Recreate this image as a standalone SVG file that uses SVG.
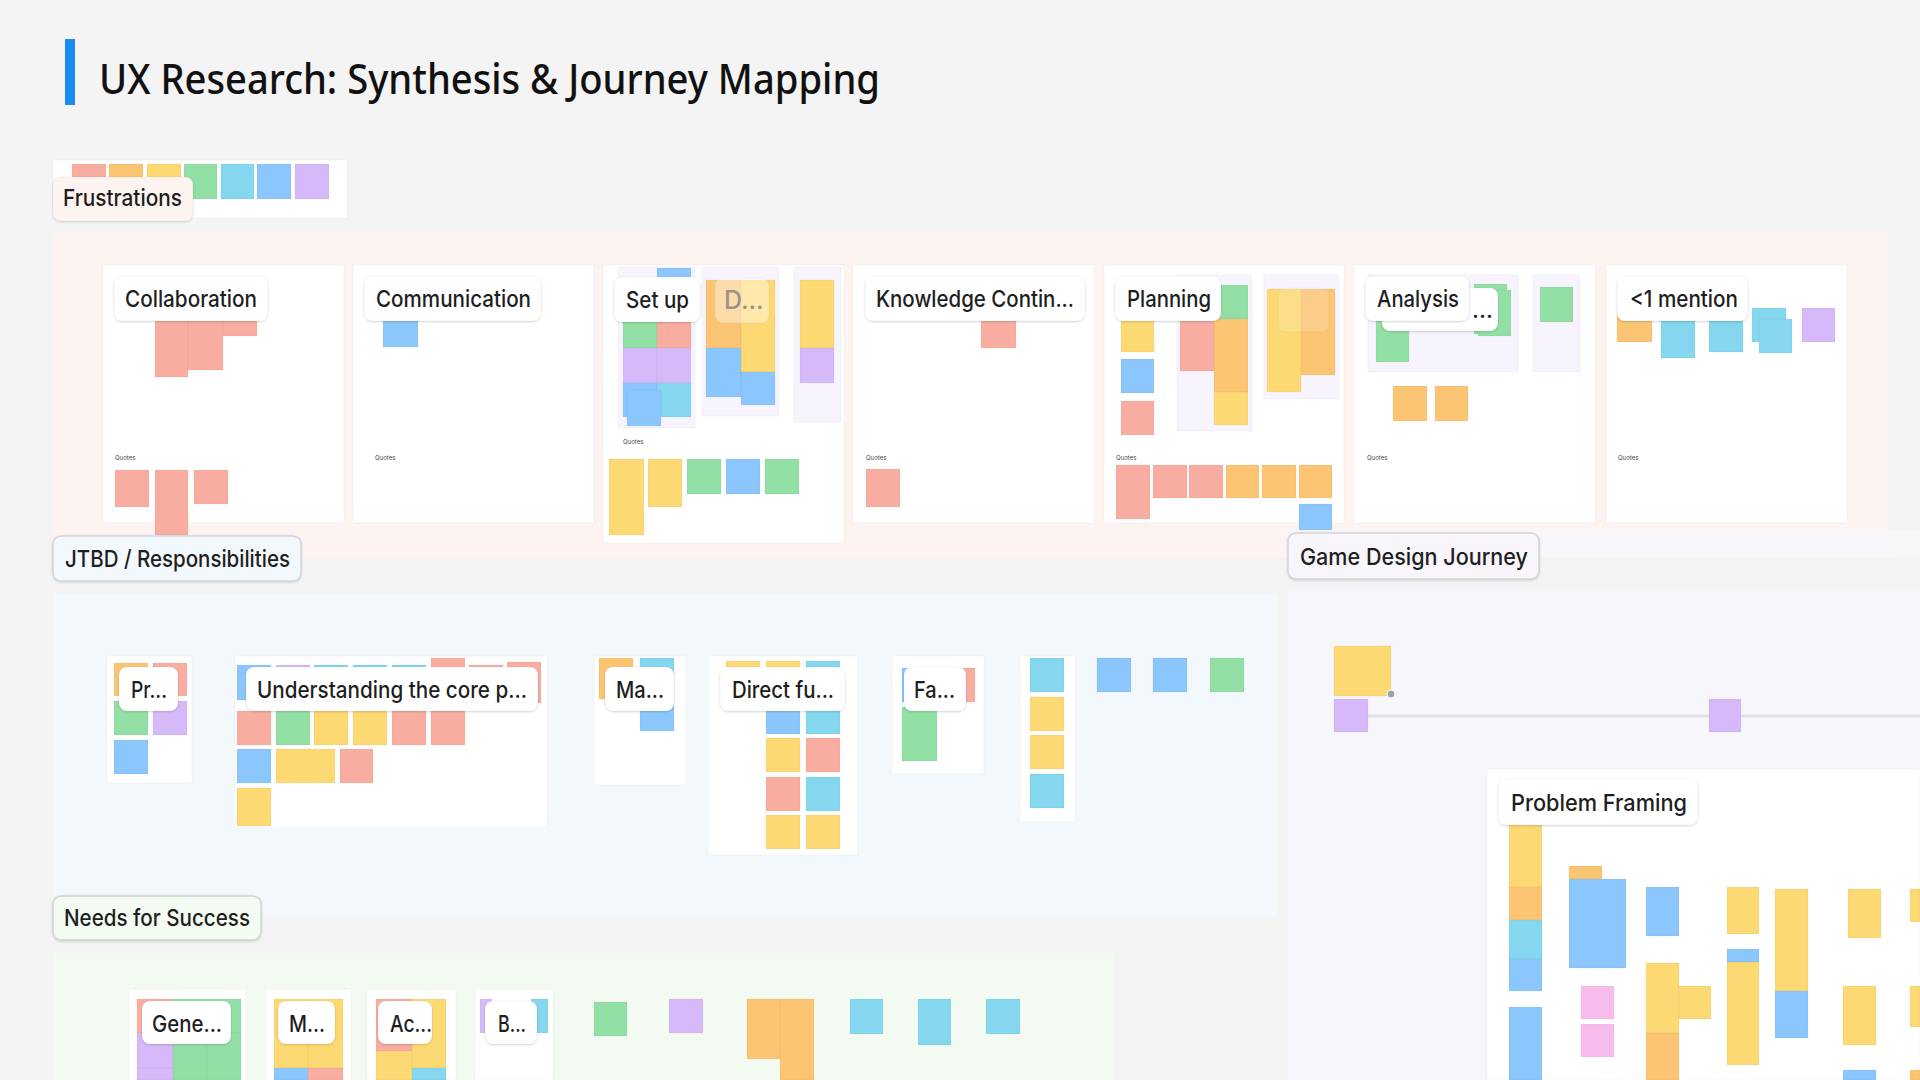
<svg xmlns="http://www.w3.org/2000/svg" width="1920" height="1080" viewBox="0 0 1920 1080">
<defs>
<filter id="sh" x="-10%" y="-20%" width="120%" height="150%"><feDropShadow dx="0" dy="1" stdDeviation="1.2" flood-color="#000" flood-opacity="0.15"/></filter>
</defs>
<style>
.s{fill:#f9ada0}.o{fill:#fcc574}.y{fill:#fdd974}.g{fill:#92dfa5}.c{fill:#84d7ee}.b{fill:#8bc6fc}.p{fill:#d6b9f8}.k{fill:#f8bcec}
.n rect{stroke:#000;stroke-opacity:0.06;stroke-width:0.6}
.card{fill:#ffffff}
.lav{fill:#f7f4fd;stroke:#ece7f6;stroke-width:1}
.lbl{fill:#ffffff;stroke:#d4d4d4;stroke-width:1.5;filter:url(#sh)}
.lt{font-family:Inter,Roboto,"Liberation Sans",sans-serif;font-size:23px;font-weight:500;fill:#1e1e1e}
.q{font-family:Inter,"Liberation Sans",sans-serif;font-size:6px;fill:#444}
.con{stroke:#e2e0e8;stroke-width:3;fill:none}
</style>
<rect width="1920" height="1080" fill="#f4f4f4"/>
<g id="title">
<rect x="65" y="39" width="10" height="66" fill="#1a8bf0"/>
<text x="99" y="94" font-family="'Noto Sans','Open Sans',sans-serif" font-size="42" font-weight="500" fill="#111" textLength="781" lengthAdjust="spacingAndGlyphs">UX Research: Synthesis &amp; Journey Mapping</text>
</g>
<g id="backgrounds">
<rect x="53" y="233" width="1836" height="325" fill="#fdf3f1"/>
<rect x="1283" y="530" width="637" height="27" fill="#f8f6fb"/>
<rect x="53" y="594" width="1224" height="322" fill="#f3f8fc"/>
<rect x="1288" y="591" width="632" height="489" fill="#f7f6fb"/>
<rect x="53" y="953" width="1060" height="127" fill="#f3faf2"/>
</g>
<g id="frustrations-header" class="n">
<rect x="53" y="160" width="294" height="58" fill="#fff" stroke="none"/>
<rect class="s" x="72" y="164" width="34" height="35"/>
<rect class="o" x="109" y="164" width="34" height="35"/>
<rect class="y" x="147" y="164" width="34" height="35"/>
<rect class="g" x="184" y="164" width="33" height="35"/>
<rect class="c" x="221" y="164" width="33" height="35"/>
<rect class="b" x="257" y="164" width="34" height="35"/>
<rect class="p" x="295" y="164" width="34" height="35"/>
<rect x="53" y="177" width="140" height="44" rx="8" fill="#fdf3f1" stroke="#d8d0ce" stroke-width="1.5" filter="url(#sh)"/>
<text class="lt" x="63" y="206" textLength="119" lengthAdjust="spacingAndGlyphs">Frustrations</text>
</g>
<g id="collaboration" class="n">
<rect class="card" x="103" y="265" width="241" height="258"/>
<rect class="s" x="155" y="310" width="33" height="67"/>
<rect class="s" x="188" y="310" width="35" height="60"/>
<rect class="s" x="223" y="310" width="34" height="26"/>
<text class="q" x="115" y="460">Quotes</text>
<rect class="s" x="115" y="470" width="34" height="37"/>
<rect class="s" x="155" y="470" width="33" height="65"/>
<rect class="s" x="194" y="470" width="34" height="34"/>
<rect class="lbl" x="114" y="276" width="154" height="45" rx="8"/>
<text class="lt" x="125" y="307" textLength="132" lengthAdjust="spacingAndGlyphs">Collaboration</text>
</g>
<g id="communication" class="n">
<rect class="card" x="353" y="265" width="241" height="258"/>
<rect class="b" x="383" y="310" width="35" height="37"/>
<text class="q" x="375" y="460">Quotes</text>
<rect class="lbl" x="364" y="276" width="177" height="45" rx="8"/>
<text class="lt" x="376" y="307" textLength="155" lengthAdjust="spacingAndGlyphs">Communication</text>
</g>
<g id="setup" class="n">
<rect class="card" x="603" y="265" width="241" height="278"/>
<rect class="lav" x="618" y="267" width="77" height="161"/>
<rect class="lav" x="702" y="267" width="77" height="149"/>
<rect class="lav" x="794" y="267" width="47" height="155"/>
<rect class="b" x="657" y="268" width="34" height="14"/>
<rect class="g" x="623" y="300" width="34" height="48"/>
<rect class="s" x="657" y="300" width="34" height="48"/>
<rect class="p" x="623" y="348" width="34" height="35"/>
<rect class="p" x="657" y="348" width="34" height="35"/>
<rect class="b" x="623" y="383" width="34" height="34"/>
<rect class="c" x="657" y="383" width="34" height="34"/>
<rect class="b" x="627" y="390" width="34" height="36"/>
<rect class="o" x="706" y="280" width="35" height="68"/>
<rect class="y" x="741" y="280" width="34" height="92"/>
<rect class="b" x="706" y="348" width="35" height="49"/>
<rect class="b" x="741" y="372" width="34" height="33"/>
<rect class="y" x="800" y="280" width="34" height="68"/>
<rect class="p" x="800" y="348" width="34" height="35"/>
<text class="q" x="623" y="444">Quotes</text>
<rect class="y" x="609" y="459" width="35" height="76"/>
<rect class="y" x="648" y="459" width="34" height="48"/>
<rect class="g" x="687" y="459" width="34" height="35"/>
<rect class="b" x="726" y="459" width="34" height="35"/>
<rect class="g" x="765" y="459" width="34" height="35"/>
<rect class="lbl" x="614" y="277" width="86" height="45" rx="8"/>
<text class="lt" x="626" y="308" textLength="63" lengthAdjust="spacingAndGlyphs">Set up</text>
<rect x="715" y="278" width="54" height="45" rx="8" fill="#fff" fill-opacity="0.4" stroke="#bbb" stroke-opacity="0.5" stroke-width="1.5"/>
<text class="lt" x="724" y="309" style="fill:#9a928a;font-size:25px">D...</text>
</g>
<g id="knowledge" class="n">
<rect class="card" x="853" y="265" width="241" height="258"/>
<rect class="s" x="981" y="310" width="35" height="38"/>
<text class="q" x="866" y="460">Quotes</text>
<rect class="s" x="866" y="469" width="34" height="38"/>
<rect class="lbl" x="865" y="276" width="220" height="45" rx="8"/>
<text class="lt" x="876" y="307" textLength="198" lengthAdjust="spacingAndGlyphs">Knowledge Contin...</text>
</g>
<g id="planning" class="n">
<rect class="card" x="1104" y="265" width="240" height="258"/>
<rect class="y" x="1121" y="300" width="33" height="52"/>
<rect class="b" x="1121" y="359" width="33" height="34"/>
<rect class="s" x="1121" y="401" width="33" height="34"/>
<rect class="lav" x="1177" y="275" width="75" height="156"/>
<rect class="g" x="1214" y="285" width="34" height="34"/>
<rect class="o" x="1214" y="319" width="34" height="73"/>
<rect class="y" x="1214" y="392" width="34" height="33"/>
<rect class="s" x="1180" y="300" width="34" height="71"/>
<rect class="lav" x="1264" y="275" width="75" height="124"/>
<rect class="y" x="1267" y="289" width="34" height="103"/>
<rect class="o" x="1301" y="289" width="34" height="86"/>
<rect x="1278" y="288" width="51" height="44" rx="7" fill="#fff" fill-opacity="0.15" stroke="#c9b9a0" stroke-opacity="0.4"/>
<text class="q" x="1116" y="460">Quotes</text>
<rect class="s" x="1116" y="465" width="34" height="54"/>
<rect class="s" x="1153" y="465" width="34" height="33"/>
<rect class="s" x="1189" y="465" width="34" height="33"/>
<rect class="o" x="1226" y="465" width="33" height="33"/>
<rect class="o" x="1262" y="465" width="34" height="33"/>
<rect class="o" x="1299" y="465" width="33" height="33"/>
<rect class="b" x="1299" y="504" width="33" height="26"/>
<rect class="lbl" x="1115" y="276" width="106" height="45" rx="8"/>
<text class="lt" x="1127" y="307" textLength="84" lengthAdjust="spacingAndGlyphs">Planning</text>
</g>
<g id="analysis" class="n">
<rect class="card" x="1354" y="265" width="241" height="258"/>
<rect class="lav" x="1368" y="275" width="150" height="97"/>
<rect class="lav" x="1533" y="275" width="47" height="97"/>
<rect class="g" x="1376" y="310" width="33" height="52"/>
<rect class="g" x="1474" y="284" width="33" height="50"/>
<rect class="g" x="1478" y="290" width="33" height="46"/>
<rect class="g" x="1540" y="287" width="33" height="35"/>
<rect class="o" x="1393" y="386" width="34" height="35"/>
<rect class="o" x="1435" y="386" width="33" height="35"/>
<text class="q" x="1367" y="460">Quotes</text>
<rect class="lbl" x="1382" y="288" width="116" height="43" rx="8"/>
<text class="lt" x="1472" y="318">...</text>
<rect class="lbl" x="1365" y="276" width="104" height="45" rx="8"/>
<text class="lt" x="1377" y="307" textLength="82" lengthAdjust="spacingAndGlyphs">Analysis</text>
</g>
<g id="one-mention" class="n">
<rect class="card" x="1606" y="265" width="241" height="258"/>
<rect class="o" x="1617" y="310" width="35" height="32"/>
<rect class="c" x="1661" y="310" width="34" height="48"/>
<rect class="c" x="1709" y="305" width="34" height="47"/>
<rect class="c" x="1752" y="308" width="34" height="34"/>
<rect class="c" x="1759" y="319" width="33" height="34"/>
<rect class="p" x="1802" y="308" width="33" height="34"/>
<text class="q" x="1618" y="460">Quotes</text>
<rect class="lbl" x="1617" y="276" width="131" height="45" rx="8"/>
<text class="lt" x="1630" y="307" textLength="108" lengthAdjust="spacingAndGlyphs">&lt;1 mention</text>
</g>
<g id="jtbd-label">
<rect x="53" y="536" width="248" height="45" rx="8" fill="#f3f8fc" stroke="#d0d5da" stroke-width="1.5" filter="url(#sh)"/>
<text class="lt" x="65" y="567" textLength="225" lengthAdjust="spacingAndGlyphs">JTBD / Responsibilities</text>
</g>
<g id="pr" class="n">
<rect class="card" x="107" y="656" width="85" height="127"/>
<rect class="o" x="114" y="663" width="34" height="33"/>
<rect class="s" x="153" y="663" width="34" height="33"/>
<rect class="g" x="114" y="701" width="34" height="34"/>
<rect class="p" x="153" y="701" width="34" height="34"/>
<rect class="b" x="114" y="740" width="34" height="34"/>
<rect class="lbl" x="119" y="667" width="59" height="44" rx="8"/>
<text class="lt" x="131" y="698" textLength="36" lengthAdjust="spacingAndGlyphs">Pr...</text>
</g>
<g id="understanding" class="n">
<rect class="card" x="235" y="656" width="312" height="172"/>
<rect class="b" x="237" y="665" width="34" height="35"/>
<rect class="p" x="276" y="665" width="34" height="35"/>
<rect class="c" x="314" y="665" width="34" height="35"/>
<rect class="c" x="353" y="665" width="34" height="35"/>
<rect class="c" x="392" y="665" width="34" height="35"/>
<rect class="s" x="431" y="658" width="34" height="42"/>
<rect class="s" x="469" y="665" width="34" height="35"/>
<rect class="s" x="507" y="662" width="34" height="41"/>
<rect class="s" x="237" y="711" width="34" height="34"/>
<rect class="g" x="276" y="711" width="34" height="34"/>
<rect class="y" x="314" y="711" width="34" height="34"/>
<rect class="y" x="353" y="711" width="34" height="34"/>
<rect class="s" x="392" y="711" width="34" height="34"/>
<rect class="s" x="431" y="711" width="34" height="34"/>
<rect class="b" x="237" y="749" width="34" height="34"/>
<rect class="y" x="276" y="749" width="59" height="34"/>
<rect class="s" x="340" y="749" width="33" height="34"/>
<rect class="y" x="237" y="788" width="34" height="38"/>
<rect class="lbl" x="246" y="667" width="292" height="44" rx="8"/>
<text class="lt" x="257" y="698" textLength="270" lengthAdjust="spacingAndGlyphs">Understanding the core p...</text>
</g>
<g id="ma" class="n">
<rect class="card" x="594" y="656" width="92" height="129"/>
<rect class="o" x="599" y="658" width="34" height="41"/>
<rect class="c" x="640" y="658" width="34" height="12"/>
<rect class="b" x="640" y="670" width="34" height="61"/>
<rect class="lbl" x="605" y="667" width="69" height="44" rx="8"/>
<text class="lt" x="616" y="698" textLength="48" lengthAdjust="spacingAndGlyphs">Ma...</text>
</g>
<g id="direct" class="n">
<rect class="card" x="708" y="656" width="150" height="199"/>
<rect class="y" x="726" y="661" width="34" height="34"/>
<rect class="y" x="766" y="661" width="34" height="34"/>
<rect class="c" x="806" y="661" width="34" height="34"/>
<rect class="b" x="766" y="700" width="34" height="34"/>
<rect class="c" x="806" y="700" width="34" height="34"/>
<rect class="y" x="766" y="738" width="34" height="34"/>
<rect class="s" x="806" y="738" width="34" height="34"/>
<rect class="s" x="766" y="777" width="34" height="34"/>
<rect class="c" x="806" y="777" width="34" height="34"/>
<rect class="y" x="766" y="815" width="34" height="34"/>
<rect class="y" x="806" y="815" width="34" height="34"/>
<rect class="lbl" x="720" y="667" width="125" height="44" rx="8"/>
<text class="lt" x="732" y="698" textLength="102" lengthAdjust="spacingAndGlyphs">Direct fu...</text>
</g>
<g id="fa" class="n">
<rect class="card" x="892" y="656" width="92" height="118"/>
<rect class="b" x="902" y="668" width="34" height="34"/>
<rect class="s" x="941" y="668" width="34" height="34"/>
<rect class="g" x="902" y="707" width="35" height="54"/>
<rect class="lbl" x="904" y="667" width="62" height="44" rx="8"/>
<text class="lt" x="914" y="698" textLength="41" lengthAdjust="spacingAndGlyphs">Fa...</text>
</g>
<g id="jtbd-column" class="n">
<rect class="card" x="1020" y="656" width="55" height="166"/>
<rect class="c" x="1030" y="658" width="34" height="34"/>
<rect class="y" x="1030" y="697" width="34" height="34"/>
<rect class="y" x="1030" y="735" width="34" height="34"/>
<rect class="c" x="1030" y="774" width="34" height="34"/>
</g>
<g id="jtbd-loose" class="n">
<rect class="b" x="1097" y="658" width="34" height="34"/>
<rect class="b" x="1153" y="658" width="34" height="34"/>
<rect class="g" x="1210" y="658" width="34" height="34"/>
</g>
<g id="needs-label">
<rect x="53" y="896" width="208" height="44" rx="8" fill="#f4fbf2" stroke="#d0d6cf" stroke-width="1.5" filter="url(#sh)"/>
<text class="lt" x="64" y="926" textLength="186" lengthAdjust="spacingAndGlyphs">Needs for Success</text>
</g>
<g id="gene" class="n">
<rect class="card" x="129" y="989" width="117" height="91"/>
<rect class="s" x="137" y="999" width="36" height="34"/>
<rect class="g" x="173" y="999" width="34" height="34"/>
<rect class="g" x="207" y="999" width="34" height="34"/>
<rect class="p" x="137" y="1033" width="36" height="35"/>
<rect class="g" x="173" y="1033" width="34" height="47"/>
<rect class="g" x="207" y="1033" width="34" height="47"/>
<rect class="p" x="137" y="1068" width="36" height="12"/>
<rect class="lbl" x="142" y="1001" width="89" height="43" rx="8"/>
<text class="lt" x="152" y="1032" textLength="70" lengthAdjust="spacingAndGlyphs">Gene...</text>
</g>
<g id="m" class="n">
<rect class="card" x="266" y="989" width="85" height="91"/>
<rect class="y" x="274" y="999" width="34" height="69"/>
<rect class="y" x="308" y="999" width="35" height="69"/>
<rect class="b" x="274" y="1068" width="34" height="12"/>
<rect class="s" x="308" y="1068" width="35" height="12"/>
<rect class="lbl" x="278" y="1001" width="57" height="43" rx="8"/>
<text class="lt" x="289" y="1032" textLength="36" lengthAdjust="spacingAndGlyphs">M...</text>
</g>
<g id="ac" class="n">
<rect class="card" x="367" y="989" width="89" height="91"/>
<rect class="s" x="376" y="999" width="36" height="52"/>
<rect class="y" x="412" y="999" width="34" height="69"/>
<rect class="y" x="376" y="1051" width="36" height="29"/>
<rect class="c" x="412" y="1068" width="34" height="12"/>
<rect class="lbl" x="378" y="1001" width="54" height="43" rx="8"/>
<text class="lt" x="390" y="1032" textLength="42" lengthAdjust="spacingAndGlyphs">Ac...</text>
</g>
<g id="b" class="n">
<rect class="card" x="475" y="989" width="78" height="91"/>
<rect class="p" x="480" y="999" width="12" height="34"/>
<rect class="c" x="531" y="999" width="17" height="34"/>
<rect class="lbl" x="485" y="1001" width="52" height="43" rx="8"/>
<text class="lt" x="498" y="1032" textLength="28" lengthAdjust="spacingAndGlyphs">B...</text>
</g>
<g id="needs-loose" class="n">
<rect class="g" x="594" y="1002" width="33" height="34"/>
<rect class="p" x="669" y="999" width="34" height="34"/>
<rect class="o" x="747" y="999" width="33" height="60"/>
<rect class="o" x="780" y="999" width="34" height="81"/>
<rect class="c" x="850" y="999" width="33" height="35"/>
<rect class="c" x="918" y="999" width="33" height="46"/>
<rect class="c" x="986" y="999" width="34" height="35"/>
</g>
<g id="game-design-label">
<rect x="1288" y="533" width="251" height="46" rx="8" fill="#f8f6fb" stroke="#d4d2d8" stroke-width="1.5" filter="url(#sh)"/>
<text class="lt" x="1300" y="565" textLength="228" lengthAdjust="spacingAndGlyphs">Game Design Journey</text>
</g>
<g id="connectors">
<line class="con" x1="1368" y1="716" x2="1709" y2="716"/>
<line class="con" x1="1741" y1="716" x2="1920" y2="716"/>
<line x1="1662" y1="936" x2="1662" y2="963" stroke="#c8c8c8" stroke-width="1"/>
</g>
<g id="journey-notes" class="n">
<rect class="y" x="1334" y="646" width="57" height="50"/>
<rect class="p" x="1334" y="699" width="34" height="33"/>
<rect class="p" x="1709" y="699" width="32" height="33"/>
<circle cx="1391" cy="694" r="4" fill="#9aa3ad" stroke="#fff" stroke-width="1"/>
</g>
<g id="problem-framing" class="n">
<rect class="card" x="1487" y="769" width="433" height="311"/>
<rect class="y" x="1509" y="820" width="33" height="67"/>
<rect class="o" x="1509" y="887" width="33" height="33"/>
<rect class="c" x="1509" y="920" width="33" height="39"/>
<rect class="b" x="1509" y="959" width="33" height="32"/>
<rect class="b" x="1509" y="1007" width="33" height="73"/>
<rect class="o" x="1569" y="866" width="33" height="13"/>
<rect class="b" x="1569" y="879" width="57" height="89"/>
<rect class="k" x="1581" y="986" width="33" height="33"/>
<rect class="k" x="1581" y="1024" width="33" height="33"/>
<rect class="b" x="1646" y="887" width="33" height="49"/>
<rect class="y" x="1646" y="963" width="33" height="70"/>
<rect class="o" x="1646" y="1033" width="33" height="47"/>
<rect class="y" x="1679" y="986" width="32" height="33"/>
<rect class="y" x="1727" y="887" width="32" height="47"/>
<rect class="b" x="1727" y="949" width="32" height="13"/>
<rect class="y" x="1727" y="962" width="32" height="103"/>
<rect class="y" x="1775" y="889" width="33" height="102"/>
<rect class="b" x="1775" y="991" width="33" height="47"/>
<rect class="y" x="1848" y="889" width="33" height="49"/>
<rect class="y" x="1843" y="986" width="33" height="59"/>
<rect class="b" x="1843" y="1070" width="33" height="10"/>
<rect class="y" x="1910" y="889" width="10" height="33"/>
<rect class="y" x="1910" y="986" width="10" height="41"/>
<rect class="o" x="1910" y="1070" width="10" height="10"/>
<rect class="lbl" x="1498" y="779" width="200" height="46" rx="8"/>
<text class="lt" x="1511" y="811" textLength="176" lengthAdjust="spacingAndGlyphs">Problem Framing</text>
</g>
</svg>
